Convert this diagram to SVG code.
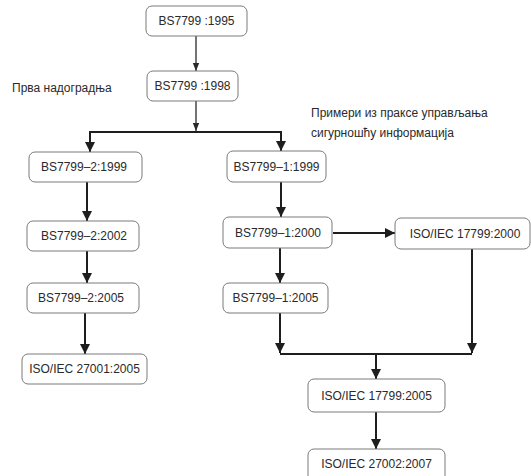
<svg xmlns="http://www.w3.org/2000/svg" width="531" height="476" viewBox="0 0 531 476">
<style>
.box{fill:#fff;stroke:#7a7a7a;stroke-width:1}
.t{font-family:"Liberation Sans",Arial,sans-serif;font-size:12px;fill:#2a2a2a}
.c{text-anchor:middle;dominant-baseline:central}
.thin{stroke:#2a2a2a;stroke-width:1.3;fill:none}
.thick{stroke:#1e1e1e;stroke-width:2;fill:none}
</style>
<defs>
<marker id="ah" markerUnits="userSpaceOnUse" markerWidth="12" markerHeight="12" refX="11" refY="6" orient="auto"><path d="M1,1 L11,6 L1,11 Z" fill="#1e1e1e"/></marker>
<marker id="as" markerUnits="userSpaceOnUse" markerWidth="10" markerHeight="8" refX="9" refY="4" orient="auto"><path d="M1,0.8 L9,4 L1,7.2 Z" fill="#2a2a2a"/></marker>
</defs>
<rect width="531" height="476" fill="#fff"/>
<g id="connectors">
<line class="thin" x1="196" y1="36" x2="196" y2="71" marker-end="url(#as)"/>
<line class="thin" x1="196" y1="101" x2="196" y2="131" marker-end="url(#as)"/>
<polyline class="thick" points="90,152 90,132 281,132 281,151"/>
<line class="thick" x1="90" y1="140" x2="90" y2="152" marker-end="url(#ah)"/>
<line class="thick" x1="281" y1="140" x2="281" y2="151" marker-end="url(#ah)"/>
<line class="thick" x1="87" y1="182" x2="87" y2="221" marker-end="url(#ah)"/>
<line class="thick" x1="87" y1="251" x2="87" y2="283" marker-end="url(#ah)"/>
<line class="thick" x1="85" y1="313" x2="85" y2="354" marker-end="url(#ah)"/>
<line class="thick" x1="281" y1="182" x2="281" y2="217" marker-end="url(#ah)"/>
<line class="thick" x1="333" y1="233" x2="395" y2="233" marker-end="url(#ah)"/>
<line class="thick" x1="280" y1="248" x2="280" y2="283" marker-end="url(#ah)"/>
<line class="thick" x1="280" y1="313" x2="280" y2="353" marker-end="url(#ah)"/>
<line class="thick" x1="472" y1="249" x2="472" y2="353" marker-end="url(#ah)"/>
<line class="thick" x1="280" y1="354" x2="472" y2="354"/>
<line class="thick" x1="376" y1="354" x2="376" y2="379" marker-end="url(#ah)"/>
<line class="thick" x1="376" y1="412" x2="376" y2="449" marker-end="url(#ah)"/>
</g>
<g id="n1995"><rect class="box" x="146" y="6" width="101" height="30" rx="6"/><text class="t c" x="196.5" y="21">BS7799 :1995</text></g>
<g id="n1998"><rect class="box" x="147" y="71" width="91" height="30" rx="6"/><text class="t c" x="192.5" y="86">BS7799 :1998</text></g>
<g id="label1"><text class="t" x="12" y="92">Прва надоградња</text></g>
<g id="label2"><text class="t" x="311" y="117">Примери из праксе управљања</text><text class="t" x="311" y="137">сигурношћу информација</text></g>
<g id="n2_1999"><rect class="box" x="29" y="152" width="113" height="30" rx="6"/><text class="t c" x="84" y="167">BS7799–2:1999</text></g>
<g id="n2_2002"><rect class="box" x="27" y="221" width="112" height="30" rx="6"/><text class="t c" x="84" y="236">BS7799–2:2002</text></g>
<g id="n2_2005"><rect class="box" x="27" y="283" width="112" height="30" rx="6"/><text class="t c" x="81" y="298">BS7799–2:2005</text></g>
<g id="n27001"><rect class="box" x="22" y="354" width="125" height="30" rx="6"/><text class="t c" x="84.5" y="369">ISO/IEC 27001:2005</text></g>
<g id="n1_1999"><rect class="box" x="227" y="151" width="99" height="31" rx="6"/><text class="t c" x="276.5" y="166.5">BS7799–1:1999</text></g>
<g id="n1_2000"><rect class="box" x="223" y="217" width="109" height="31" rx="6"/><text class="t c" x="278" y="232.5">BS7799–1:2000</text></g>
<g id="n17799_2000"><rect class="box" x="395" y="218" width="135" height="31" rx="6"/><text class="t c" x="465" y="233.5">ISO/IEC 17799:2000</text></g>
<g id="n1_2005"><rect class="box" x="223" y="283" width="105" height="30" rx="6"/><text class="t c" x="275.5" y="298">BS7799–1:2005</text></g>
<g id="n17799_2005"><rect class="box" x="308" y="379" width="137" height="33" rx="6"/><text class="t c" x="376.5" y="395.5">ISO/IEC 17799:2005</text></g>
<g id="n27002"><rect class="box" x="308" y="449" width="137" height="34" rx="6"/><text class="t c" x="376.5" y="464">ISO/IEC 27002:2007</text></g>
</svg>
